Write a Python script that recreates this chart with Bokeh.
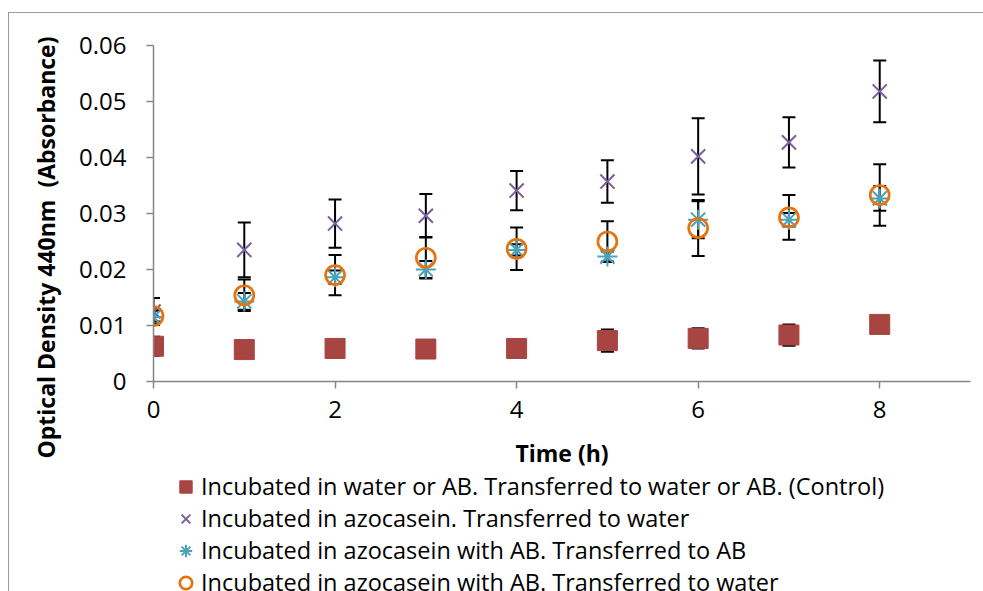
from bokeh.plotting import figure
from bokeh.layouts import column
from bokeh.models import (ColumnDataSource, Whisker, TeeHead, Legend, LegendItem, Range1d,
                          FixedTicker, Title)
from bokeh.embed import file_html
from bokeh.resources import INLINE

# ---- data ----
time_h = [0, 1, 2, 3, 4, 5, 6, 7, 8]

control = [0.0063, 0.0057, 0.0059, 0.0058, 0.0059, 0.0073, 0.0077, 0.0083, 0.0102]
control_err = [0.0017, 0.0008, 0.0008, 0.0008, 0.0008, 0.0020, 0.0018, 0.0019, 0.0008]

azo_water = [0.0125, 0.0235, 0.0282, 0.0296, 0.0341, 0.0357, 0.0402, 0.0427, 0.0518]
azo_water_err = [0.0024, 0.0049, 0.0043, 0.0039, 0.0035, 0.0038, 0.0068, 0.0045, 0.0055]

azo_ab_ab = [0.0115, 0.0143, 0.0186, 0.0200, 0.0235, 0.0223, 0.0289, 0.0289, 0.0327]
azo_ab_ab_err = [0.0012, 0.0015, 0.0012, 0.0015, 0.0010, 0.0009, 0.0033, 0.0012, 0.0022]

azo_ab_water = [0.0117, 0.0154, 0.0190, 0.0221, 0.0237, 0.0250, 0.0274, 0.0293, 0.0333]
azo_ab_water_err = [0.0010, 0.0028, 0.0036, 0.0037, 0.0038, 0.0036, 0.0050, 0.0040, 0.0055]

labels = [
    "Incubated in water or AB. Transferred to water or AB. (Control)",
    "Incubated in azocasein. Transferred to water",
    "Incubated in azocasein with AB. Transferred to AB",
    "Incubated in azocasein with AB. Transferred to water",
]
x_label = "Time (h)"
y_label = "Optical Density 440nm\u00a0 (Absorbance)"
x_ticks = [0, 2, 4, 6, 8]
y_ticks = [0, 0.01, 0.02, 0.03, 0.04, 0.05, 0.06]
y_tick_labels = ["0", "0.01", "0.02", "0.03", "0.04", "0.05", "0.06"]

FONT = "Open Sans"

p = figure(width=975, height=460, output_backend="svg", toolbar_location=None,
           x_range=Range1d(0, 9), y_range=Range1d(0, 0.06),
           min_border_left=144, min_border_right=14, min_border_top=32, min_border_bottom=92)
p.outline_line_color = None
p.grid.visible = False

for ax in (p.xaxis[0], p.yaxis[0]):
    ax.axis_line_color = "#868686"
    ax.axis_line_width = 1.5
    ax.major_tick_line_color = "#868686"
    ax.major_tick_line_width = 1.5
    ax.major_tick_out = 7
    ax.major_tick_in = 0
    ax.minor_tick_line_color = None
    ax.major_label_text_font = FONT
    ax.major_label_text_font_size = "24px"
    ax.major_label_text_color = "black"

p.xaxis.ticker = FixedTicker(ticks=x_ticks)
p.yaxis.ticker = FixedTicker(ticks=y_ticks)
p.yaxis.major_label_overrides = dict(zip(y_ticks, y_tick_labels))
p.xaxis.major_label_standoff = 12
p.yaxis.major_label_standoff = 20

p.xaxis.axis_label = x_label
p.xaxis.axis_label_text_font = FONT
p.xaxis.axis_label_text_font_size = "23px"
p.xaxis.axis_label_text_font_style = "bold"
p.xaxis.axis_label_text_color = "black"
p.xaxis.axis_label_standoff = 16

ytitle = Title(text=y_label, align="left", offset=-77, standoff=30,
               text_font=FONT, text_font_size="23px", text_font_style="bold",
               text_color="black")
p.add_layout(ytitle, "left")

# legend figure below the chart (its glyph copies lie outside its ranges)
pl = figure(width=975, height=119, output_backend="svg", toolbar_location=None,
            x_range=Range1d(100, 101), y_range=Range1d(100, 101),
            x_axis_location=None, y_axis_location=None,
            min_border_left=0, min_border_right=0, min_border_top=0, min_border_bottom=0)
pl.grid.visible = False
pl.outline_line_color = None

series = [
    (control, control_err, "square", "#A84441", 20, None),
    (azo_water, azo_water_err, "x", "#7A5E9E", 20, 2),
    (azo_ab_ab, azo_ab_ab_err, "asterisk", "#4AA3BA", 20, 2),
    (azo_ab_water, azo_ab_water_err, "circle", "#E8720C", 20, 2.7),
]


def add_marker(fig, src, marker, color, size, lw):
    if marker == "square":
        return fig.scatter("x", "y", source=src, marker="square", size=size,
                           fill_color=color, line_color=color, line_width=1)
    if marker == "circle":
        return fig.scatter("x", "y", source=src, marker="circle", size=size - 1,
                           fill_color=None, line_color=color, line_width=lw)
    return fig.scatter("x", "y", source=src, marker=marker, size=size,
                       fill_color=None, line_color=color, line_width=lw)


items = []
for (vals, errs, marker, color, size, lw), lab in zip(series, labels):
    src = ColumnDataSource(dict(
        x=time_h, y=vals,
        lo=[v - e for v, e in zip(vals, errs)],
        hi=[v + e for v, e in zip(vals, errs)],
    ))
    w = Whisker(source=src, base="x", lower="lo", upper="hi",
                line_color="black", line_width=2,
                upper_head=TeeHead(size=13, line_color="black", line_width=2),
                lower_head=TeeHead(size=13, line_color="black", line_width=2))
    p.add_layout(w)
    add_marker(p, src, marker, color, size, lw)
    r = add_marker(pl, src, marker, color, size, lw)
    items.append(LegendItem(label=lab, renderers=[r]))

legend = Legend(items=items, location=(17, -6), orientation="vertical",
                label_text_font=FONT, label_text_font_size="23.5px",
                label_text_color="black", glyph_width=31, glyph_height=31,
                label_standoff=0, spacing=0, padding=0, margin=0,
                border_line_color=None, background_fill_alpha=0)
pl.add_layout(legend, "center")

layout = column(p, pl, spacing=0)
layout.margin = (12, 0, 0, 8)
layout.styles = {"border-left": "1.5px solid #9a9a9a", "border-top": "1.5px solid #9a9a9a"}

open("out.html", "w").write(file_html(layout, INLINE))
